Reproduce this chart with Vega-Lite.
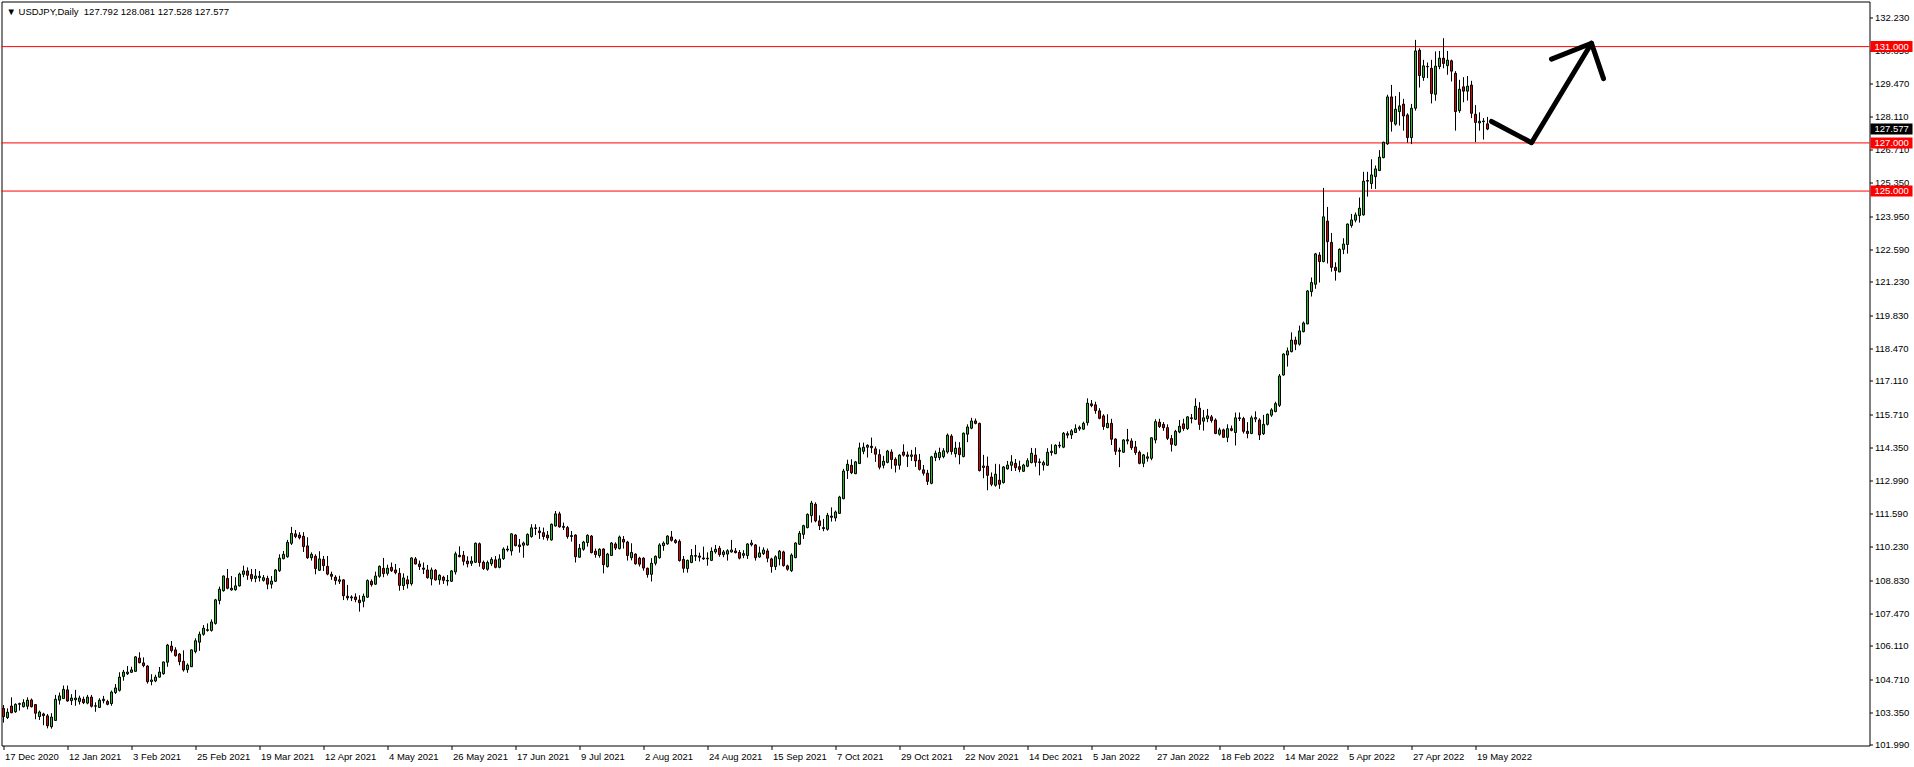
{
"$schema":"https://vega.github.io/schema/vega-lite/v6.json",
"width":1868,"height":744,
"autosize":{"type":"none"},
"padding":{"left":1.5,"top":1.5,"right":44.5,"bottom":21.5},
"background":"#ffffff",
"title":{"text":"▼ USDJPY,Daily\u00a0 127.792 128.081 127.528 127.577","anchor":"start","frame":"group","orient":"top","offset":-11,"dx":5,"dy":9,"baseline":"middle","font":"Liberation Sans","fontSize":9.5,"fontWeight":"normal","color":"#000000"},
"config":{"view":{"stroke":"#000000","strokeWidth":1},"font":"Liberation Sans",
 "axis":{"labelFont":"Liberation Sans","labelFontSize":9.5,"labelColor":"#000000","tickColor":"#000000","tickWidth":1,"domain":false,"grid":false,"labelOverlap":false},
 "axisY":{"labelOverlap":false,"tickCount":60}},
"datasets":{
"levels":[{"p":131},{"p":127},{"p":125}],
"bid":[{"p":127.577}],
"arrow":[{"d":"2022-05-25","p":127.89,"g":"shaft"},{"d":"2022-06-08","p":127.01,"g":"shaft"},{"d":"2022-06-29","p":131.14,"g":"shaft"},{"d":"2022-06-15","p":130.48,"g":"head"},{"d":"2022-06-29","p":131.14,"g":"head"},{"d":"2022-07-04","p":129.67,"g":"head"}],
"candles":[
{"d":"2020-12-17","o":103.51,"h":103.65,"l":102.92,"c":103.17},
{"d":"2020-12-18","o":103.13,"h":103.51,"l":103.07,"c":103.35},
{"d":"2020-12-21","o":103.61,"h":103.97,"l":103.31,"c":103.33},
{"d":"2020-12-22","o":103.37,"h":103.72,"l":103.33,"c":103.68},
{"d":"2020-12-23","o":103.68,"h":103.75,"l":103.42,"c":103.71},
{"d":"2020-12-24","o":103.58,"h":103.89,"l":103.55,"c":103.75},
{"d":"2020-12-28","o":103.60,"h":103.97,"l":103.47,"c":103.85},
{"d":"2020-12-29","o":103.86,"h":103.92,"l":103.55,"c":103.58},
{"d":"2020-12-30","o":103.67,"h":103.69,"l":103.06,"c":103.31},
{"d":"2020-12-31","o":103.17,"h":103.42,"l":103.03,"c":103.36},
{"d":"2021-01-04","o":103.28,"h":103.33,"l":102.81,"c":103.21},
{"d":"2021-01-05","o":103.20,"h":103.28,"l":102.68,"c":102.79},
{"d":"2021-01-06","o":102.75,"h":103.31,"l":102.67,"c":103.15},
{"d":"2021-01-07","o":103.01,"h":104.07,"l":103.00,"c":103.89},
{"d":"2021-01-08","o":103.85,"h":104.17,"l":103.67,"c":104.03},
{"d":"2021-01-11","o":103.92,"h":104.46,"l":103.90,"c":104.30},
{"d":"2021-01-12","o":104.28,"h":104.46,"l":103.79,"c":103.82},
{"d":"2021-01-13","o":103.83,"h":104.10,"l":103.65,"c":103.94},
{"d":"2021-01-14","o":103.87,"h":104.28,"l":103.62,"c":103.94},
{"d":"2021-01-15","o":103.80,"h":104.04,"l":103.67,"c":103.94},
{"d":"2021-01-18","o":103.89,"h":104.00,"l":103.69,"c":103.75},
{"d":"2021-01-19","o":103.73,"h":104.07,"l":103.68,"c":103.98},
{"d":"2021-01-20","o":103.98,"h":104.07,"l":103.55,"c":103.60},
{"d":"2021-01-21","o":103.60,"h":103.76,"l":103.37,"c":103.62},
{"d":"2021-01-22","o":103.55,"h":103.93,"l":103.54,"c":103.85},
{"d":"2021-01-25","o":103.83,"h":104.03,"l":103.72,"c":103.89},
{"d":"2021-01-26","o":103.80,"h":103.87,"l":103.64,"c":103.68},
{"d":"2021-01-27","o":103.71,"h":104.25,"l":103.62,"c":104.19},
{"d":"2021-01-28","o":104.17,"h":104.52,"l":104.11,"c":104.36},
{"d":"2021-01-29","o":104.26,"h":105.01,"l":104.21,"c":104.81},
{"d":"2021-02-01","o":104.84,"h":105.11,"l":104.66,"c":105.02},
{"d":"2021-02-02","o":104.95,"h":105.27,"l":104.90,"c":105.02},
{"d":"2021-02-03","o":105.01,"h":105.24,"l":104.98,"c":105.11},
{"d":"2021-02-04","o":105.05,"h":105.68,"l":105.04,"c":105.65},
{"d":"2021-02-05","o":105.60,"h":105.84,"l":105.38,"c":105.41},
{"d":"2021-02-08","o":105.40,"h":105.63,"l":105.22,"c":105.29},
{"d":"2021-02-09","o":105.27,"h":105.30,"l":104.54,"c":104.62},
{"d":"2021-02-10","o":104.63,"h":104.93,"l":104.47,"c":104.69},
{"d":"2021-02-11","o":104.65,"h":104.91,"l":104.60,"c":104.81},
{"d":"2021-02-12","o":104.81,"h":105.23,"l":104.79,"c":105.02},
{"d":"2021-02-15","o":104.95,"h":105.45,"l":104.91,"c":105.44},
{"d":"2021-02-16","o":105.43,"h":106.19,"l":105.24,"c":106.14},
{"d":"2021-02-17","o":106.10,"h":106.31,"l":105.83,"c":105.91},
{"d":"2021-02-18","o":105.94,"h":106.05,"l":105.66,"c":105.70},
{"d":"2021-02-19","o":105.77,"h":105.81,"l":105.30,"c":105.45},
{"d":"2021-02-22","o":105.47,"h":105.92,"l":105.04,"c":105.11},
{"d":"2021-02-23","o":105.12,"h":105.38,"l":104.99,"c":105.31},
{"d":"2021-02-24","o":105.24,"h":105.96,"l":105.23,"c":105.94},
{"d":"2021-02-25","o":105.87,"h":106.42,"l":105.80,"c":106.32},
{"d":"2021-02-26","o":106.26,"h":106.70,"l":105.90,"c":106.59},
{"d":"2021-03-01","o":106.59,"h":106.97,"l":106.53,"c":106.84},
{"d":"2021-03-02","o":106.75,"h":107.04,"l":106.70,"c":106.78},
{"d":"2021-03-03","o":106.75,"h":107.21,"l":106.70,"c":107.10},
{"d":"2021-03-04","o":107.04,"h":108.06,"l":106.99,"c":108.02},
{"d":"2021-03-05","o":107.99,"h":108.57,"l":107.83,"c":108.46},
{"d":"2021-03-08","o":108.40,"h":109.03,"l":108.36,"c":109.01},
{"d":"2021-03-09","o":108.91,"h":109.30,"l":108.46,"c":108.50},
{"d":"2021-03-10","o":108.43,"h":109.01,"l":108.40,"c":108.50},
{"d":"2021-03-11","o":108.44,"h":108.96,"l":108.40,"c":108.60},
{"d":"2021-03-12","o":108.60,"h":109.15,"l":108.57,"c":109.09},
{"d":"2021-03-15","o":109.08,"h":109.44,"l":108.96,"c":109.22},
{"d":"2021-03-16","o":109.22,"h":109.37,"l":108.85,"c":109.04},
{"d":"2021-03-17","o":109.07,"h":109.30,"l":108.78,"c":108.90},
{"d":"2021-03-18","o":108.91,"h":109.30,"l":108.75,"c":109.01},
{"d":"2021-03-19","o":108.94,"h":109.22,"l":108.78,"c":109.00},
{"d":"2021-03-22","o":108.83,"h":109.05,"l":108.78,"c":108.94},
{"d":"2021-03-23","o":108.91,"h":109.02,"l":108.46,"c":108.67},
{"d":"2021-03-24","o":108.67,"h":109.01,"l":108.49,"c":108.80},
{"d":"2021-03-25","o":108.79,"h":109.30,"l":108.76,"c":109.26},
{"d":"2021-03-26","o":109.23,"h":109.91,"l":109.18,"c":109.75},
{"d":"2021-03-29","o":109.73,"h":110.05,"l":109.70,"c":109.91},
{"d":"2021-03-30","o":109.81,"h":110.51,"l":109.77,"c":110.41},
{"d":"2021-03-31","o":110.37,"h":111.05,"l":110.30,"c":110.78},
{"d":"2021-04-01","o":110.76,"h":110.92,"l":110.58,"c":110.65},
{"d":"2021-04-02","o":110.71,"h":110.83,"l":110.53,"c":110.60},
{"d":"2021-04-05","o":110.66,"h":110.83,"l":110.01,"c":110.23},
{"d":"2021-04-06","o":110.26,"h":110.62,"l":109.72,"c":109.77},
{"d":"2021-04-07","o":109.77,"h":109.99,"l":109.65,"c":109.91},
{"d":"2021-04-08","o":109.83,"h":109.91,"l":109.08,"c":109.32},
{"d":"2021-04-09","o":109.25,"h":110.04,"l":109.22,"c":109.72},
{"d":"2021-04-12","o":109.70,"h":109.84,"l":109.22,"c":109.44},
{"d":"2021-04-13","o":109.41,"h":109.84,"l":109.04,"c":109.09},
{"d":"2021-04-14","o":109.08,"h":109.19,"l":108.85,"c":109.00},
{"d":"2021-04-15","o":108.96,"h":109.04,"l":108.65,"c":108.82},
{"d":"2021-04-16","o":108.79,"h":109.02,"l":108.68,"c":108.85},
{"d":"2021-04-19","o":108.85,"h":108.87,"l":108.01,"c":108.19},
{"d":"2021-04-20","o":108.17,"h":108.64,"l":108.00,"c":108.10},
{"d":"2021-04-21","o":108.10,"h":108.21,"l":107.97,"c":108.14},
{"d":"2021-04-22","o":108.14,"h":108.29,"l":107.92,"c":108.03},
{"d":"2021-04-23","o":108.01,"h":108.21,"l":107.53,"c":107.90},
{"d":"2021-04-26","o":107.96,"h":108.28,"l":107.71,"c":108.17},
{"d":"2021-04-27","o":108.13,"h":108.87,"l":108.10,"c":108.82},
{"d":"2021-04-28","o":108.79,"h":108.87,"l":108.57,"c":108.65},
{"d":"2021-04-29","o":108.67,"h":109.19,"l":108.64,"c":109.01},
{"d":"2021-04-30","o":109.00,"h":109.45,"l":108.94,"c":109.41},
{"d":"2021-05-03","o":109.33,"h":109.76,"l":108.96,"c":109.11},
{"d":"2021-05-04","o":109.12,"h":109.48,"l":109.03,"c":109.33},
{"d":"2021-05-05","o":109.37,"h":109.57,"l":109.18,"c":109.23},
{"d":"2021-05-06","o":109.26,"h":109.51,"l":109.08,"c":109.15},
{"d":"2021-05-07","o":109.12,"h":109.34,"l":108.40,"c":108.62},
{"d":"2021-05-10","o":108.61,"h":109.12,"l":108.43,"c":108.93},
{"d":"2021-05-11","o":108.85,"h":109.02,"l":108.49,"c":108.68},
{"d":"2021-05-12","o":108.69,"h":109.79,"l":108.61,"c":109.76},
{"d":"2021-05-13","o":109.72,"h":109.80,"l":109.49,"c":109.51},
{"d":"2021-05-14","o":109.51,"h":109.65,"l":109.26,"c":109.40},
{"d":"2021-05-17","o":109.34,"h":109.57,"l":109.09,"c":109.29},
{"d":"2021-05-18","o":109.26,"h":109.47,"l":108.90,"c":108.94},
{"d":"2021-05-19","o":108.89,"h":109.36,"l":108.62,"c":109.26},
{"d":"2021-05-20","o":109.25,"h":109.30,"l":108.82,"c":108.85},
{"d":"2021-05-21","o":108.85,"h":109.08,"l":108.65,"c":109.04},
{"d":"2021-05-24","o":108.96,"h":109.02,"l":108.68,"c":108.83},
{"d":"2021-05-25","o":108.83,"h":109.05,"l":108.61,"c":108.80},
{"d":"2021-05-26","o":108.79,"h":109.26,"l":108.76,"c":109.22},
{"d":"2021-05-27","o":109.18,"h":110.02,"l":109.07,"c":109.93},
{"d":"2021-05-28","o":109.87,"h":110.24,"l":109.79,"c":109.81},
{"d":"2021-05-31","o":109.87,"h":110.05,"l":109.45,"c":109.62},
{"d":"2021-06-01","o":109.63,"h":109.83,"l":109.37,"c":109.52},
{"d":"2021-06-02","o":109.54,"h":109.83,"l":109.43,"c":109.63},
{"d":"2021-06-03","o":109.58,"h":110.40,"l":109.56,"c":110.37},
{"d":"2021-06-04","o":110.35,"h":110.40,"l":109.40,"c":109.57},
{"d":"2021-06-07","o":109.58,"h":109.65,"l":109.26,"c":109.32},
{"d":"2021-06-08","o":109.29,"h":109.65,"l":109.23,"c":109.57},
{"d":"2021-06-09","o":109.52,"h":109.79,"l":109.43,"c":109.70},
{"d":"2021-06-10","o":109.68,"h":109.84,"l":109.33,"c":109.37},
{"d":"2021-06-11","o":109.37,"h":109.91,"l":109.33,"c":109.72},
{"d":"2021-06-14","o":109.73,"h":110.20,"l":109.68,"c":110.13},
{"d":"2021-06-15","o":110.13,"h":110.27,"l":110.02,"c":110.09},
{"d":"2021-06-16","o":110.05,"h":110.78,"l":109.86,"c":110.76},
{"d":"2021-06-17","o":110.71,"h":110.75,"l":110.24,"c":110.27},
{"d":"2021-06-18","o":110.30,"h":110.55,"l":109.98,"c":110.23},
{"d":"2021-06-21","o":110.29,"h":110.44,"l":109.77,"c":110.38},
{"d":"2021-06-22","o":110.30,"h":110.78,"l":110.27,"c":110.74},
{"d":"2021-06-23","o":110.65,"h":111.16,"l":110.60,"c":111.01},
{"d":"2021-06-24","o":110.98,"h":111.16,"l":110.71,"c":111.01},
{"d":"2021-06-25","o":110.88,"h":111.05,"l":110.55,"c":110.81},
{"d":"2021-06-28","o":110.81,"h":111.02,"l":110.52,"c":110.65},
{"d":"2021-06-29","o":110.71,"h":110.88,"l":110.48,"c":110.59},
{"d":"2021-06-30","o":110.51,"h":111.19,"l":110.48,"c":111.16},
{"d":"2021-07-01","o":111.09,"h":111.71,"l":111.06,"c":111.59},
{"d":"2021-07-02","o":111.59,"h":111.68,"l":111.02,"c":111.05},
{"d":"2021-07-05","o":111.07,"h":111.23,"l":110.92,"c":111.03},
{"d":"2021-07-06","o":111.02,"h":111.09,"l":110.56,"c":110.65},
{"d":"2021-07-07","o":110.65,"h":110.88,"l":110.44,"c":110.69},
{"d":"2021-07-08","o":110.71,"h":110.74,"l":109.57,"c":109.81},
{"d":"2021-07-09","o":109.79,"h":110.34,"l":109.77,"c":110.16},
{"d":"2021-07-12","o":110.12,"h":110.47,"l":110.06,"c":110.42},
{"d":"2021-07-13","o":110.40,"h":110.74,"l":110.23,"c":110.70},
{"d":"2021-07-14","o":110.67,"h":110.71,"l":109.95,"c":109.98},
{"d":"2021-07-15","o":110.04,"h":110.15,"l":109.77,"c":109.90},
{"d":"2021-07-16","o":109.86,"h":110.16,"l":109.77,"c":110.12},
{"d":"2021-07-19","o":110.13,"h":110.16,"l":109.12,"c":109.48},
{"d":"2021-07-20","o":109.40,"h":109.97,"l":109.36,"c":109.92},
{"d":"2021-07-21","o":109.86,"h":110.42,"l":109.84,"c":110.38},
{"d":"2021-07-22","o":110.34,"h":110.41,"l":110.09,"c":110.17},
{"d":"2021-07-23","o":110.15,"h":110.69,"l":110.11,"c":110.63},
{"d":"2021-07-26","o":110.53,"h":110.67,"l":110.15,"c":110.42},
{"d":"2021-07-27","o":110.42,"h":110.47,"l":109.65,"c":109.86},
{"d":"2021-07-28","o":109.77,"h":110.37,"l":109.66,"c":109.99},
{"d":"2021-07-29","o":109.92,"h":109.95,"l":109.48,"c":109.52},
{"d":"2021-07-30","o":109.75,"h":109.81,"l":109.40,"c":109.50},
{"d":"2021-08-02","o":109.75,"h":109.79,"l":109.23,"c":109.34},
{"d":"2021-08-03","o":109.33,"h":109.36,"l":108.94,"c":109.07},
{"d":"2021-08-04","o":109.08,"h":109.75,"l":108.78,"c":109.54},
{"d":"2021-08-05","o":109.54,"h":109.86,"l":109.45,"c":109.83},
{"d":"2021-08-06","o":109.77,"h":110.37,"l":109.73,"c":110.30},
{"d":"2021-08-09","o":110.27,"h":110.45,"l":110.06,"c":110.38},
{"d":"2021-08-10","o":110.34,"h":110.70,"l":110.31,"c":110.67},
{"d":"2021-08-11","o":110.63,"h":110.88,"l":110.44,"c":110.49},
{"d":"2021-08-12","o":110.49,"h":110.55,"l":110.35,"c":110.40},
{"d":"2021-08-13","o":110.45,"h":110.53,"l":109.61,"c":109.65},
{"d":"2021-08-16","o":109.70,"h":109.84,"l":109.15,"c":109.33},
{"d":"2021-08-17","o":109.32,"h":109.69,"l":109.15,"c":109.66},
{"d":"2021-08-18","o":109.57,"h":110.13,"l":109.54,"c":109.86},
{"d":"2021-08-19","o":109.83,"h":110.30,"l":109.63,"c":109.86},
{"d":"2021-08-20","o":109.84,"h":109.98,"l":109.61,"c":109.79},
{"d":"2021-08-23","o":109.76,"h":110.23,"l":109.68,"c":109.72},
{"d":"2021-08-24","o":109.72,"h":109.99,"l":109.44,"c":109.75},
{"d":"2021-08-25","o":109.66,"h":110.20,"l":109.63,"c":110.04},
{"d":"2021-08-26","o":110.01,"h":110.30,"l":109.94,"c":110.12},
{"d":"2021-08-27","o":110.16,"h":110.26,"l":109.81,"c":109.90},
{"d":"2021-08-30","o":109.90,"h":110.09,"l":109.79,"c":110.01},
{"d":"2021-08-31","o":109.92,"h":110.12,"l":109.65,"c":110.06},
{"d":"2021-09-01","o":110.01,"h":110.51,"l":109.98,"c":110.09},
{"d":"2021-09-02","o":110.05,"h":110.17,"l":109.95,"c":109.98},
{"d":"2021-09-03","o":109.99,"h":110.09,"l":109.70,"c":109.75},
{"d":"2021-09-06","o":109.87,"h":110.08,"l":109.75,"c":109.94},
{"d":"2021-09-07","o":109.86,"h":110.37,"l":109.72,"c":110.34},
{"d":"2021-09-08","o":110.31,"h":110.51,"l":110.24,"c":110.38},
{"d":"2021-09-09","o":110.30,"h":110.34,"l":109.65,"c":109.77},
{"d":"2021-09-10","o":109.80,"h":110.23,"l":109.77,"c":109.97},
{"d":"2021-09-13","o":109.94,"h":110.20,"l":109.88,"c":110.09},
{"d":"2021-09-14","o":110.05,"h":110.15,"l":109.58,"c":109.75},
{"d":"2021-09-15","o":109.72,"h":109.77,"l":109.15,"c":109.40},
{"d":"2021-09-16","o":109.40,"h":109.87,"l":109.26,"c":109.81},
{"d":"2021-09-17","o":109.72,"h":110.09,"l":109.45,"c":110.04},
{"d":"2021-09-20","o":110.01,"h":110.06,"l":109.40,"c":109.44},
{"d":"2021-09-21","o":109.43,"h":109.48,"l":109.23,"c":109.29},
{"d":"2021-09-22","o":109.23,"h":109.95,"l":109.18,"c":109.88},
{"d":"2021-09-23","o":109.77,"h":110.41,"l":109.75,"c":110.38},
{"d":"2021-09-24","o":110.33,"h":110.88,"l":110.30,"c":110.78},
{"d":"2021-09-27","o":110.74,"h":111.14,"l":110.55,"c":111.10},
{"d":"2021-09-28","o":111.02,"h":111.61,"l":110.99,"c":111.57},
{"d":"2021-09-29","o":111.52,"h":112.13,"l":111.23,"c":112.04},
{"d":"2021-09-30","o":111.99,"h":112.07,"l":111.24,"c":111.30},
{"d":"2021-10-01","o":111.30,"h":111.53,"l":110.92,"c":111.10},
{"d":"2021-10-04","o":111.02,"h":111.38,"l":110.87,"c":110.98},
{"d":"2021-10-05","o":110.95,"h":111.63,"l":110.89,"c":111.53},
{"d":"2021-10-06","o":111.50,"h":111.86,"l":111.27,"c":111.45},
{"d":"2021-10-07","o":111.42,"h":111.73,"l":111.28,"c":111.67},
{"d":"2021-10-08","o":111.61,"h":112.34,"l":111.59,"c":112.29},
{"d":"2021-10-11","o":112.22,"h":113.46,"l":112.20,"c":113.37},
{"d":"2021-10-12","o":113.39,"h":113.84,"l":113.04,"c":113.65},
{"d":"2021-10-13","o":113.61,"h":113.86,"l":113.24,"c":113.30},
{"d":"2021-10-14","o":113.26,"h":113.79,"l":113.24,"c":113.75},
{"d":"2021-10-15","o":113.68,"h":114.55,"l":113.66,"c":114.33},
{"d":"2021-10-18","o":114.19,"h":114.55,"l":114.07,"c":114.36},
{"d":"2021-10-19","o":114.36,"h":114.48,"l":113.93,"c":114.44},
{"d":"2021-10-20","o":114.40,"h":114.76,"l":114.12,"c":114.34},
{"d":"2021-10-21","o":114.29,"h":114.39,"l":113.75,"c":114.07},
{"d":"2021-10-22","o":114.05,"h":114.27,"l":113.44,"c":113.53},
{"d":"2021-10-25","o":113.61,"h":114.00,"l":113.48,"c":113.78},
{"d":"2021-10-26","o":113.73,"h":114.25,"l":113.69,"c":114.20},
{"d":"2021-10-27","o":114.16,"h":114.27,"l":113.46,"c":113.85},
{"d":"2021-10-28","o":113.86,"h":113.94,"l":113.31,"c":113.61},
{"d":"2021-10-29","o":113.61,"h":114.07,"l":113.43,"c":114.03},
{"d":"2021-11-01","o":114.16,"h":114.48,"l":113.97,"c":114.03},
{"d":"2021-11-02","o":114.04,"h":114.18,"l":113.54,"c":113.98},
{"d":"2021-11-03","o":113.98,"h":114.25,"l":113.79,"c":114.04},
{"d":"2021-11-04","o":114.04,"h":114.36,"l":113.54,"c":113.79},
{"d":"2021-11-05","o":113.82,"h":114.08,"l":113.39,"c":113.44},
{"d":"2021-11-08","o":113.42,"h":113.62,"l":113.18,"c":113.28},
{"d":"2021-11-09","o":113.28,"h":113.42,"l":112.79,"c":112.94},
{"d":"2021-11-10","o":112.86,"h":114.00,"l":112.82,"c":113.96},
{"d":"2021-11-11","o":113.93,"h":114.22,"l":113.78,"c":114.11},
{"d":"2021-11-12","o":113.93,"h":114.34,"l":113.82,"c":114.14},
{"d":"2021-11-15","o":113.97,"h":114.32,"l":113.90,"c":114.21},
{"d":"2021-11-16","o":114.16,"h":114.93,"l":114.09,"c":114.86},
{"d":"2021-11-17","o":114.82,"h":114.90,"l":114.05,"c":114.18},
{"d":"2021-11-18","o":114.09,"h":114.59,"l":113.94,"c":114.32},
{"d":"2021-11-19","o":114.33,"h":114.57,"l":113.65,"c":114.05},
{"d":"2021-11-22","o":113.97,"h":114.97,"l":113.94,"c":114.94},
{"d":"2021-11-23","o":114.90,"h":115.31,"l":114.57,"c":115.20},
{"d":"2021-11-24","o":115.15,"h":115.58,"l":115.11,"c":115.45},
{"d":"2021-11-25","o":115.45,"h":115.55,"l":115.31,"c":115.35},
{"d":"2021-11-26","o":115.35,"h":115.38,"l":113.35,"c":113.39},
{"d":"2021-11-29","o":113.52,"h":114.04,"l":113.07,"c":113.58},
{"d":"2021-11-30","o":113.57,"h":113.97,"l":112.57,"c":113.19},
{"d":"2021-12-01","o":113.12,"h":113.31,"l":112.74,"c":112.82},
{"d":"2021-12-02","o":112.78,"h":113.67,"l":112.72,"c":113.24},
{"d":"2021-12-03","o":112.99,"h":113.65,"l":112.63,"c":112.82},
{"d":"2021-12-06","o":112.89,"h":113.58,"l":112.85,"c":113.54},
{"d":"2021-12-07","o":113.46,"h":113.79,"l":113.43,"c":113.62},
{"d":"2021-12-08","o":113.61,"h":114.03,"l":113.37,"c":113.75},
{"d":"2021-12-09","o":113.69,"h":113.87,"l":113.37,"c":113.51},
{"d":"2021-12-10","o":113.55,"h":113.80,"l":113.32,"c":113.44},
{"d":"2021-12-13","o":113.36,"h":113.67,"l":113.33,"c":113.62},
{"d":"2021-12-14","o":113.57,"h":113.90,"l":113.53,"c":113.80},
{"d":"2021-12-15","o":113.72,"h":114.33,"l":113.69,"c":114.11},
{"d":"2021-12-16","o":114.03,"h":114.32,"l":113.55,"c":113.73},
{"d":"2021-12-17","o":113.75,"h":113.89,"l":113.19,"c":113.72},
{"d":"2021-12-20","o":113.62,"h":113.80,"l":113.39,"c":113.72},
{"d":"2021-12-21","o":113.61,"h":114.32,"l":113.59,"c":114.15},
{"d":"2021-12-22","o":114.14,"h":114.48,"l":114.01,"c":114.19},
{"d":"2021-12-23","o":114.09,"h":114.48,"l":114.07,"c":114.44},
{"d":"2021-12-24","o":114.41,"h":114.59,"l":114.32,"c":114.44},
{"d":"2021-12-27","o":114.36,"h":114.99,"l":114.32,"c":114.94},
{"d":"2021-12-28","o":114.92,"h":115.02,"l":114.73,"c":114.86},
{"d":"2021-12-29","o":114.87,"h":115.11,"l":114.70,"c":115.04},
{"d":"2021-12-30","o":114.97,"h":115.31,"l":114.95,"c":115.13},
{"d":"2021-12-31","o":115.12,"h":115.26,"l":115.04,"c":115.19},
{"d":"2022-01-03","o":115.11,"h":115.42,"l":115.08,"c":115.35},
{"d":"2022-01-04","o":115.38,"h":116.39,"l":115.26,"c":116.19},
{"d":"2022-01-05","o":116.16,"h":116.32,"l":116.02,"c":116.09},
{"d":"2022-01-06","o":116.12,"h":116.25,"l":115.75,"c":115.88},
{"d":"2022-01-07","o":115.87,"h":115.98,"l":115.52,"c":115.56},
{"d":"2022-01-10","o":115.66,"h":115.73,"l":115.08,"c":115.22},
{"d":"2022-01-11","o":115.17,"h":115.73,"l":115.15,"c":115.35},
{"d":"2022-01-12","o":115.35,"h":115.54,"l":114.45,"c":114.69},
{"d":"2022-01-13","o":114.70,"h":114.73,"l":114.04,"c":114.19},
{"d":"2022-01-14","o":114.23,"h":114.34,"l":113.53,"c":114.19},
{"d":"2022-01-17","o":114.15,"h":114.69,"l":114.12,"c":114.66},
{"d":"2022-01-18","o":114.62,"h":115.12,"l":114.48,"c":114.67},
{"d":"2022-01-19","o":114.62,"h":114.73,"l":114.25,"c":114.34},
{"d":"2022-01-20","o":114.37,"h":114.62,"l":114.04,"c":114.14},
{"d":"2022-01-21","o":114.15,"h":114.22,"l":113.65,"c":113.69},
{"d":"2022-01-24","o":113.69,"h":114.08,"l":113.53,"c":114.04},
{"d":"2022-01-25","o":113.90,"h":114.15,"l":113.76,"c":113.96},
{"d":"2022-01-26","o":113.90,"h":114.77,"l":113.82,"c":114.75},
{"d":"2022-01-27","o":114.66,"h":115.52,"l":114.52,"c":115.42},
{"d":"2022-01-28","o":115.40,"h":115.54,"l":115.16,"c":115.22},
{"d":"2022-01-31","o":115.31,"h":115.40,"l":115.04,"c":115.17},
{"d":"2022-02-01","o":115.17,"h":115.31,"l":114.66,"c":114.73},
{"d":"2022-02-02","o":114.72,"h":114.87,"l":114.18,"c":114.48},
{"d":"2022-02-03","o":114.45,"h":115.08,"l":114.41,"c":115.02},
{"d":"2022-02-04","o":114.99,"h":115.49,"l":114.94,"c":115.23},
{"d":"2022-02-07","o":115.33,"h":115.54,"l":115.04,"c":115.13},
{"d":"2022-02-08","o":115.13,"h":115.65,"l":115.08,"c":115.62},
{"d":"2022-02-09","o":115.58,"h":115.74,"l":115.35,"c":115.55},
{"d":"2022-02-10","o":115.52,"h":116.39,"l":115.49,"c":116.06},
{"d":"2022-02-11","o":115.98,"h":116.23,"l":115.08,"c":115.31},
{"d":"2022-02-14","o":115.44,"h":115.91,"l":115.05,"c":115.58},
{"d":"2022-02-15","o":115.55,"h":115.95,"l":115.40,"c":115.66},
{"d":"2022-02-16","o":115.62,"h":115.70,"l":115.38,"c":115.47},
{"d":"2022-02-17","o":115.49,"h":115.56,"l":114.90,"c":114.93},
{"d":"2022-02-18","o":114.90,"h":115.17,"l":114.84,"c":115.08},
{"d":"2022-02-21","o":115.08,"h":115.13,"l":114.76,"c":114.77},
{"d":"2022-02-22","o":114.77,"h":115.31,"l":114.57,"c":115.13},
{"d":"2022-02-23","o":115.13,"h":115.26,"l":115.02,"c":115.06},
{"d":"2022-02-24","o":114.97,"h":115.80,"l":114.43,"c":115.58},
{"d":"2022-02-25","o":115.58,"h":115.80,"l":115.45,"c":115.55},
{"d":"2022-02-28","o":115.55,"h":115.62,"l":114.93,"c":115.02},
{"d":"2022-03-01","o":115.02,"h":115.40,"l":114.73,"c":114.93},
{"d":"2022-03-02","o":114.93,"h":115.67,"l":114.90,"c":115.58},
{"d":"2022-03-03","o":115.53,"h":115.85,"l":115.40,"c":115.59},
{"d":"2022-03-04","o":115.49,"h":115.56,"l":114.66,"c":114.87},
{"d":"2022-03-07","o":114.92,"h":115.70,"l":114.87,"c":115.31},
{"d":"2022-03-08","o":115.31,"h":115.76,"l":115.26,"c":115.73},
{"d":"2022-03-09","o":115.69,"h":115.98,"l":115.62,"c":115.91},
{"d":"2022-03-10","o":115.84,"h":116.25,"l":115.81,"c":116.17},
{"d":"2022-03-11","o":116.10,"h":117.40,"l":116.03,"c":117.32},
{"d":"2022-03-14","o":117.36,"h":118.26,"l":117.33,"c":118.23},
{"d":"2022-03-15","o":118.19,"h":118.50,"l":117.71,"c":118.36},
{"d":"2022-03-16","o":118.33,"h":119.13,"l":118.30,"c":118.81},
{"d":"2022-03-17","o":118.81,"h":118.95,"l":118.39,"c":118.64},
{"d":"2022-03-18","o":118.64,"h":119.41,"l":118.58,"c":119.19},
{"d":"2022-03-21","o":119.16,"h":119.58,"l":119.13,"c":119.52},
{"d":"2022-03-22","o":119.48,"h":120.89,"l":119.47,"c":120.85},
{"d":"2022-03-23","o":120.82,"h":121.41,"l":120.62,"c":121.20},
{"d":"2022-03-24","o":121.13,"h":122.43,"l":120.94,"c":122.39},
{"d":"2022-03-25","o":122.34,"h":122.46,"l":121.20,"c":122.07},
{"d":"2022-03-28","o":122.07,"h":125.13,"l":122.04,"c":123.93},
{"d":"2022-03-29","o":123.75,"h":124.34,"l":121.99,"c":122.90},
{"d":"2022-03-30","o":122.87,"h":123.26,"l":121.65,"c":121.83},
{"d":"2022-03-31","o":121.83,"h":122.04,"l":121.28,"c":121.70},
{"d":"2022-04-01","o":121.64,"h":122.62,"l":121.63,"c":122.58},
{"d":"2022-04-04","o":122.58,"h":123.04,"l":122.38,"c":122.80},
{"d":"2022-04-05","o":122.78,"h":123.65,"l":122.40,"c":123.63},
{"d":"2022-04-06","o":123.57,"h":124.05,"l":123.48,"c":123.80},
{"d":"2022-04-07","o":123.79,"h":124.11,"l":123.70,"c":124.01},
{"d":"2022-04-08","o":123.98,"h":124.73,"l":123.69,"c":124.29},
{"d":"2022-04-11","o":124.01,"h":125.80,"l":123.98,"c":125.41},
{"d":"2022-04-12","o":125.41,"h":125.80,"l":124.77,"c":125.44},
{"d":"2022-04-13","o":125.31,"h":126.32,"l":125.09,"c":125.67},
{"d":"2022-04-14","o":125.60,"h":126.06,"l":125.09,"c":125.92},
{"d":"2022-04-15","o":125.85,"h":126.70,"l":125.84,"c":126.41},
{"d":"2022-04-18","o":126.39,"h":127.05,"l":126.36,"c":127.03},
{"d":"2022-04-19","o":126.96,"h":129.00,"l":126.92,"c":128.91},
{"d":"2022-04-20","o":128.91,"h":129.41,"l":127.47,"c":127.89},
{"d":"2022-04-21","o":127.78,"h":128.95,"l":127.72,"c":128.40},
{"d":"2022-04-22","o":128.30,"h":129.11,"l":127.72,"c":128.54},
{"d":"2022-04-25","o":128.61,"h":128.83,"l":127.51,"c":128.12},
{"d":"2022-04-26","o":128.16,"h":128.23,"l":127.01,"c":127.22},
{"d":"2022-04-27","o":127.22,"h":128.62,"l":126.95,"c":128.44},
{"d":"2022-04-28","o":128.44,"h":131.28,"l":128.34,"c":130.82},
{"d":"2022-04-29","o":130.85,"h":130.93,"l":129.30,"c":129.80},
{"d":"2022-05-02","o":129.72,"h":130.45,"l":129.58,"c":130.20},
{"d":"2022-05-03","o":130.18,"h":130.34,"l":129.69,"c":130.16},
{"d":"2022-05-04","o":130.10,"h":130.45,"l":128.64,"c":129.05},
{"d":"2022-05-05","o":129.02,"h":130.80,"l":128.75,"c":130.19},
{"d":"2022-05-06","o":130.17,"h":130.82,"l":130.06,"c":130.52},
{"d":"2022-05-09","o":130.52,"h":131.35,"l":130.10,"c":130.30},
{"d":"2022-05-10","o":130.21,"h":130.82,"l":129.83,"c":130.44},
{"d":"2022-05-11","o":130.41,"h":130.46,"l":129.55,"c":129.98},
{"d":"2022-05-12","o":129.89,"h":129.98,"l":127.51,"c":128.30},
{"d":"2022-05-13","o":128.34,"h":129.62,"l":128.25,"c":129.23},
{"d":"2022-05-16","o":129.33,"h":129.73,"l":128.69,"c":129.15},
{"d":"2022-05-17","o":129.15,"h":129.78,"l":128.76,"c":129.36},
{"d":"2022-05-18","o":129.40,"h":129.58,"l":128.03,"c":128.23},
{"d":"2022-05-19","o":128.19,"h":128.57,"l":127.03,"c":127.85},
{"d":"2022-05-20","o":127.83,"h":128.27,"l":127.51,"c":127.90},
{"d":"2022-05-23","o":127.88,"h":128.03,"l":127.14,"c":127.91},
{"d":"2022-05-24","o":127.792,"h":128.081,"l":127.528,"c":127.577}
]},
"layer":[
{"data":{"name":"levels"},
 "mark":{"type":"rule","color":"#FF0000","strokeWidth":1},
 "encoding":{"y":{"field":"p","type":"quantitative","scale":{"domain":[101.969,132.874],"nice":false,"zero":false},
  "axis":{"orient":"right","title":null,"values":[101.99,103.35,104.71,106.11,107.47,108.83,110.23,111.59,112.99,114.35,115.71,117.11,118.47,119.83,121.23,122.59,123.95,125.35,126.71,128.11,129.47,130.85,132.23],"tickCount":60,"format":".3f","tickSize":3,"labelPadding":2,"labelAlign":"left","labelBaseline":"middle","labelOverlap":false,"labelBound":false,"labelFlush":false}}}},
{"data":{"name":"candles"},
 "encoding":{"x":{"field":"d","type":"ordinal","sort":null,
  "scale":{"type":"point","padding":0.5,"round":false,"domain":["2020-12-17","2020-12-18","2020-12-21","2020-12-22","2020-12-23","2020-12-24","2020-12-28","2020-12-29","2020-12-30","2020-12-31",
"2021-01-04","2021-01-05","2021-01-06","2021-01-07","2021-01-08","2021-01-11","2021-01-12","2021-01-13","2021-01-14","2021-01-15","2021-01-18","2021-01-19","2021-01-20","2021-01-21","2021-01-22","2021-01-25","2021-01-26","2021-01-27","2021-01-28","2021-01-29",
"2021-02-01","2021-02-02","2021-02-03","2021-02-04","2021-02-05","2021-02-08","2021-02-09","2021-02-10","2021-02-11","2021-02-12","2021-02-15","2021-02-16","2021-02-17","2021-02-18","2021-02-19","2021-02-22","2021-02-23","2021-02-24","2021-02-25","2021-02-26",
"2021-03-01","2021-03-02","2021-03-03","2021-03-04","2021-03-05","2021-03-08","2021-03-09","2021-03-10","2021-03-11","2021-03-12","2021-03-15","2021-03-16","2021-03-17","2021-03-18","2021-03-19","2021-03-22","2021-03-23","2021-03-24","2021-03-25","2021-03-26","2021-03-29","2021-03-30","2021-03-31",
"2021-04-01","2021-04-02","2021-04-05","2021-04-06","2021-04-07","2021-04-08","2021-04-09","2021-04-12","2021-04-13","2021-04-14","2021-04-15","2021-04-16","2021-04-19","2021-04-20","2021-04-21","2021-04-22","2021-04-23","2021-04-26","2021-04-27","2021-04-28","2021-04-29","2021-04-30",
"2021-05-03","2021-05-04","2021-05-05","2021-05-06","2021-05-07","2021-05-10","2021-05-11","2021-05-12","2021-05-13","2021-05-14","2021-05-17","2021-05-18","2021-05-19","2021-05-20","2021-05-21","2021-05-24","2021-05-25","2021-05-26","2021-05-27","2021-05-28","2021-05-31",
"2021-06-01","2021-06-02","2021-06-03","2021-06-04","2021-06-07","2021-06-08","2021-06-09","2021-06-10","2021-06-11","2021-06-14","2021-06-15","2021-06-16","2021-06-17","2021-06-18","2021-06-21","2021-06-22","2021-06-23","2021-06-24","2021-06-25","2021-06-28","2021-06-29","2021-06-30",
"2021-07-01","2021-07-02","2021-07-05","2021-07-06","2021-07-07","2021-07-08","2021-07-09","2021-07-12","2021-07-13","2021-07-14","2021-07-15","2021-07-16","2021-07-19","2021-07-20","2021-07-21","2021-07-22","2021-07-23","2021-07-26","2021-07-27","2021-07-28","2021-07-29","2021-07-30",
"2021-08-02","2021-08-03","2021-08-04","2021-08-05","2021-08-06","2021-08-09","2021-08-10","2021-08-11","2021-08-12","2021-08-13","2021-08-16","2021-08-17","2021-08-18","2021-08-19","2021-08-20","2021-08-23","2021-08-24","2021-08-25","2021-08-26","2021-08-27","2021-08-30","2021-08-31",
"2021-09-01","2021-09-02","2021-09-03","2021-09-06","2021-09-07","2021-09-08","2021-09-09","2021-09-10","2021-09-13","2021-09-14","2021-09-15","2021-09-16","2021-09-17","2021-09-20","2021-09-21","2021-09-22","2021-09-23","2021-09-24","2021-09-27","2021-09-28","2021-09-29","2021-09-30",
"2021-10-01","2021-10-04","2021-10-05","2021-10-06","2021-10-07","2021-10-08","2021-10-11","2021-10-12","2021-10-13","2021-10-14","2021-10-15","2021-10-18","2021-10-19","2021-10-20","2021-10-21","2021-10-22","2021-10-25","2021-10-26","2021-10-27","2021-10-28","2021-10-29",
"2021-11-01","2021-11-02","2021-11-03","2021-11-04","2021-11-05","2021-11-08","2021-11-09","2021-11-10","2021-11-11","2021-11-12","2021-11-15","2021-11-16","2021-11-17","2021-11-18","2021-11-19","2021-11-22","2021-11-23","2021-11-24","2021-11-25","2021-11-26","2021-11-29","2021-11-30",
"2021-12-01","2021-12-02","2021-12-03","2021-12-06","2021-12-07","2021-12-08","2021-12-09","2021-12-10","2021-12-13","2021-12-14","2021-12-15","2021-12-16","2021-12-17","2021-12-20","2021-12-21","2021-12-22","2021-12-23","2021-12-24","2021-12-27","2021-12-28","2021-12-29","2021-12-30","2021-12-31",
"2022-01-03","2022-01-04","2022-01-05","2022-01-06","2022-01-07","2022-01-10","2022-01-11","2022-01-12","2022-01-13","2022-01-14","2022-01-17","2022-01-18","2022-01-19","2022-01-20","2022-01-21","2022-01-24","2022-01-25","2022-01-26","2022-01-27","2022-01-28","2022-01-31",
"2022-02-01","2022-02-02","2022-02-03","2022-02-04","2022-02-07","2022-02-08","2022-02-09","2022-02-10","2022-02-11","2022-02-14","2022-02-15","2022-02-16","2022-02-17","2022-02-18","2022-02-21","2022-02-22","2022-02-23","2022-02-24","2022-02-25","2022-02-28",
"2022-03-01","2022-03-02","2022-03-03","2022-03-04","2022-03-07","2022-03-08","2022-03-09","2022-03-10","2022-03-11","2022-03-14","2022-03-15","2022-03-16","2022-03-17","2022-03-18","2022-03-21","2022-03-22","2022-03-23","2022-03-24","2022-03-25","2022-03-28","2022-03-29","2022-03-30","2022-03-31",
"2022-04-01","2022-04-04","2022-04-05","2022-04-06","2022-04-07","2022-04-08","2022-04-11","2022-04-12","2022-04-13","2022-04-14","2022-04-15","2022-04-18","2022-04-19","2022-04-20","2022-04-21","2022-04-22","2022-04-25","2022-04-26","2022-04-27","2022-04-28","2022-04-29",
"2022-05-02","2022-05-03","2022-05-04","2022-05-05","2022-05-06","2022-05-09","2022-05-10","2022-05-11","2022-05-12","2022-05-13","2022-05-16","2022-05-17","2022-05-18","2022-05-19","2022-05-20","2022-05-23","2022-05-24","2022-05-25","2022-05-26","2022-05-27","2022-05-30","2022-05-31",
"2022-06-01","2022-06-02","2022-06-03","2022-06-06","2022-06-07","2022-06-08","2022-06-09","2022-06-10","2022-06-13","2022-06-14","2022-06-15","2022-06-16","2022-06-17","2022-06-20","2022-06-21","2022-06-22","2022-06-23","2022-06-24","2022-06-27","2022-06-28","2022-06-29","2022-06-30",
"2022-07-01","2022-07-04","2022-07-05","2022-07-06","2022-07-07","2022-07-08","2022-07-11","2022-07-12","2022-07-13","2022-07-14","2022-07-15","2022-07-18","2022-07-19","2022-07-20","2022-07-21","2022-07-22","2022-07-25","2022-07-26","2022-07-27","2022-07-28","2022-07-29",
"2022-08-01","2022-08-02","2022-08-03","2022-08-04","2022-08-05","2022-08-08","2022-08-09","2022-08-10","2022-08-11","2022-08-12","2022-08-15","2022-08-16","2022-08-17","2022-08-18","2022-08-19","2022-08-22","2022-08-23","2022-08-24","2022-08-25","2022-08-26","2022-08-29","2022-08-30","2022-08-31",
"2022-09-01","2022-09-02","2022-09-05","2022-09-06","2022-09-07","2022-09-08","2022-09-09","2022-09-12","2022-09-13","2022-09-14","2022-09-15","2022-09-16","2022-09-19","2022-09-20","2022-09-21","2022-09-22","2022-09-23","2022-09-26","2022-09-27","2022-09-28","2022-09-29","2022-09-30",
"2022-10-03","2022-10-04"]},
  "axis":{"title":null,"values":["2020-12-17","2021-01-12","2021-02-03","2021-02-25","2021-03-19","2021-04-12","2021-05-04","2021-05-26","2021-06-17","2021-07-09","2021-08-02","2021-08-24","2021-09-15","2021-10-07","2021-10-29","2021-11-22","2021-12-14","2022-01-05","2022-01-27","2022-02-18","2022-03-14","2022-04-05","2022-04-27","2022-05-19"],
   "labelExpr":"utcFormat(utcParse(datum.value, '%Y-%m-%d'), '%-d %b %Y')","labelAlign":"left","labelBaseline":"top","labelOffset":1,"labelPadding":2,"tickSize":4,"labelAngle":0,"labelOverlap":false,"labelBound":false,"labelFlush":false}}},
 "layer":[
  {"mark":{"type":"rule","color":"#000000","strokeWidth":1},
   "encoding":{"y":{"field":"l","type":"quantitative"},"y2":{"field":"h"}}},
  {"mark":{"type":"bar","width":2,"stroke":"#000000","strokeWidth":1},
   "encoding":{"y":{"field":"o","type":"quantitative"},"y2":{"field":"c"},
    "fill":{"condition":{"test":"datum.c >= datum.o","value":"#1FBF1F"},"value":"#E00000"}}}
 ]},
{"data":{"name":"arrow"},
 "mark":{"type":"line","color":"#000000","strokeWidth":5,"strokeCap":"round","strokeJoin":"round"},
 "encoding":{"x":{"field":"d","type":"ordinal"},"y":{"field":"p","type":"quantitative"},"detail":{"field":"g"}}},
{"data":{"name":"levels"},
 "layer":[
  {"mark":{"type":"rect","x":{"expr":"width + 1"},"x2":{"expr":"width + 43"},"height":11,"color":"#FF0000"},
   "encoding":{"y":{"field":"p","type":"quantitative"}}},
  {"mark":{"type":"text","x":{"expr":"width + 5"},"align":"left","baseline":"middle","color":"#FFFFFF","font":"Liberation Sans","fontSize":9.5},
   "encoding":{"y":{"field":"p","type":"quantitative"},"text":{"field":"p","type":"quantitative","format":".3f"}}}
 ]},
{"data":{"name":"bid"},
 "layer":[
  {"mark":{"type":"rect","x":{"expr":"width + 1"},"x2":{"expr":"width + 43"},"height":11,"color":"#000000"},
   "encoding":{"y":{"field":"p","type":"quantitative"}}},
  {"mark":{"type":"text","x":{"expr":"width + 5"},"align":"left","baseline":"middle","color":"#FFFFFF","font":"Liberation Sans","fontSize":9.5},
   "encoding":{"y":{"field":"p","type":"quantitative"},"text":{"field":"p","type":"quantitative","format":".3f"}}}
 ]}
]
}
